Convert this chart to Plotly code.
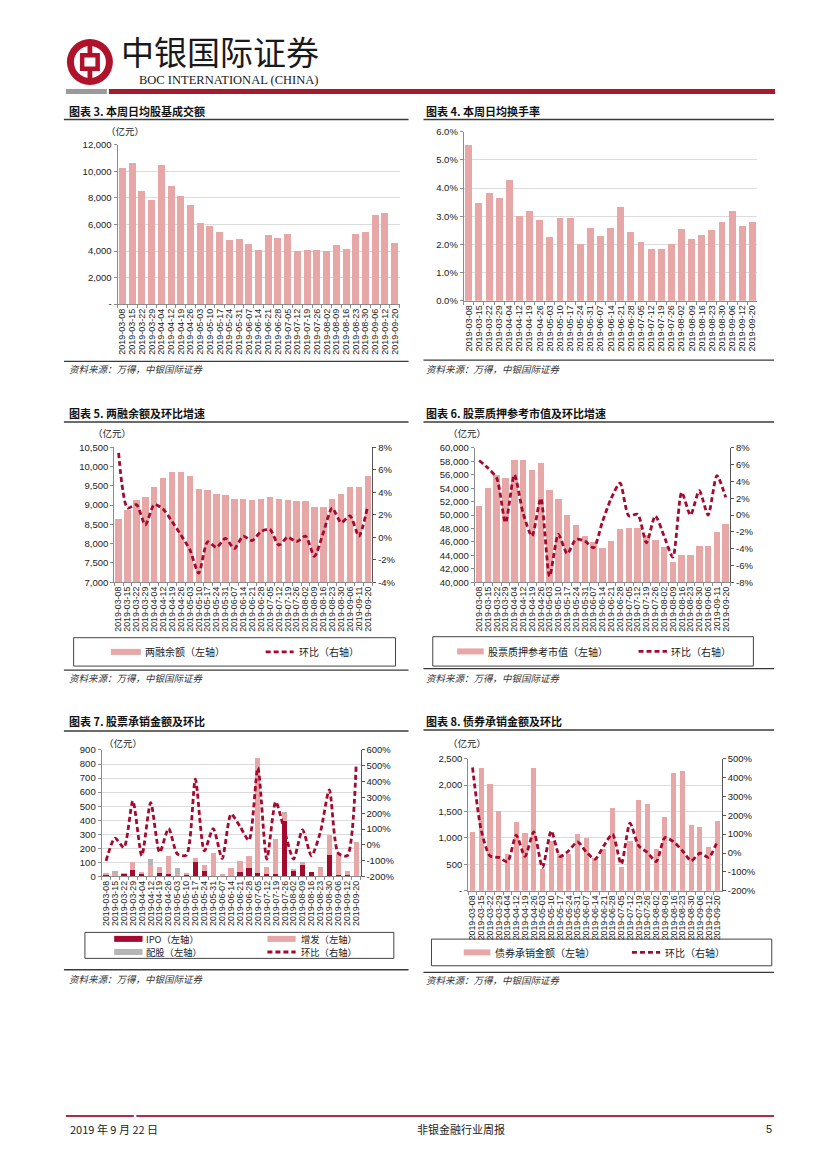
import plotly.graph_objects as go

# page is 827x1169; the html body adds an 8px margin, so the figure is drawn 8px in.
# A small vertical correction compensates the measured rendering drift.
OFF = 8
FW, FH = 827 - 2 * OFF, 1169 - 2 * OFF
def X(p): return (p - OFF) / FW
def Y(p):
    c = (p - 6.0) / 0.9915
    return 1 - (c - OFF) / FH

# ---------------- data ----------------
dates_a = ["2019-03-08","2019-03-15","2019-03-22","2019-03-29","2019-04-04","2019-04-12","2019-04-19",
           "2019-04-26","2019-05-03","2019-05-10","2019-05-17","2019-05-24","2019-05-31","2019-06-07",
           "2019-06-14","2019-06-21","2019-06-28","2019-07-05","2019-07-12","2019-07-19","2019-07-26",
           "2019-08-02","2019-08-09","2019-08-16","2019-08-23","2019-08-30","2019-09-06","2019-09-12","2019-09-20"]
dates_b = dates_a[:-2] + ["2019-09-11", "2019-09-20"]

# 图表3 本周日均股基成交额 (亿元)
turnover_amt = [10250, 10670, 8540, 7860, 10490, 8940, 8160, 7480, 6100, 5900, 5400, 4850, 4900, 4540,
                4090, 5200, 4970, 5300, 3970, 4070, 4090, 3970, 4420, 4170, 5300, 5450, 6730, 6880, 4590]
# 图表4 本周日均换手率 (%)
turnover_rate = [5.53, 3.48, 3.81, 3.64, 4.29, 3.02, 3.19, 2.85, 2.27, 2.95, 2.95, 2.03, 2.59, 2.31,
                 2.59, 3.31, 2.43, 2.09, 1.84, 1.82, 2.00, 2.54, 2.20, 2.34, 2.52, 2.81, 3.19, 2.66, 2.80]
# 图表5 两融余额 (亿元) 及环比 (%)
margin_bal = [8650, 8870, 9120, 9210, 9460, 9700, 9860, 9870, 9750, 9420, 9385, 9290, 9265, 9160,
              9160, 9120, 9170, 9220, 9160, 9140, 9110, 9110, 8945, 8955, 9170, 9300, 9460, 9460, 9750]
margin_chg = [7.5, 2.6, 2.9, 1.1, 2.9, 2.5, 1.4, 0.2, -1.1, -3.2, -0.4, -0.9, -0.1, -1.0,
              0.1, -0.3, 0.5, 0.7, -0.7, 0.0, -0.4, 0.1, -1.7, 0.4, 2.6, 1.3, 1.9, 0.1, 2.8]
# 图表6 股票质押参考市值 (亿元) 及环比 (%)
pledge_val = [51300, 54050, 55900, 55450, 58150, 58150, 56700, 57750, 53700, 52400, 50000, 48450, 46950, 46000,
              45100, 46100, 47850, 48100, 48100, 47000, 46350, 45200, 43050, 44100, 44100, 45450, 45450, 47500, 48600]
pledge_chg = [6.5, 5.6, 4.4, -0.9, 4.8, 0.2, -2.5, 2.0, -7.3, -2.3, -4.6, -2.9, -3.1, -3.9,
              -0.8, 2.0, 3.8, -0.1, 0.1, -3.3, -0.1, -2.5, -5.0, 2.7, 0.0, 2.9, 0.0, 4.7, 2.1]
# 图表7 股票承销金额 (亿元) 及环比 (%)
ipo_amt = [17, 10, 18, 47, 21, 5, 28, 21, 10, 12, 104, 40, 3, 0, 3, 33, 59, 24, 19, 21,
           396, 45, 83, 33, 5, 154, 10, 10, 5]
seo_amt = [11, 10, 2, 53, 7, 75, 41, 128, 7, 9, 26, 43, 163, 17, 56, 78, 85, 822, 50, 249,
           47, 7, 12, 0, 61, 140, 149, 28, 237]
rights_amt = [0, 16, 0, 0, 0, 41, 0, 0, 42, 0, 0, 0, 0, 0, 0, 0, 0, 0, 0, 0,
              16, 0, 9, 0, 0, 0, 0, 0, 0]
equity_chg = [-101, 42, -17, 278, -69, 267, -48, 103, -59, -65, 415, -38, 103, -86, 194, 116, 29, 488,
              -90, 272, 85, -90, 95, -69, 80, 347, -53, -69, 499]
# 图表8 债券承销金额 (亿元) 及环比 (%)
bond_amt = [1120, 2330, 2015, 1510, 690, 1310, 1090, 2330, 420, 950, 700, 690, 1080, 1000,
            620, 790, 1575, 450, 950, 1710, 1635, 790, 1400, 2225, 2265, 1240, 1210, 830, 1320]
bond_chg = [453, 120, -15, -23, -46, 95, -18, 112, -76, 117, -18, 12, 59, 6,
            -32, 38, 100, -59, 158, 38, 3, -45, 82, 59, 12, -41, -1, -23, 65]

# ---------------- styles ----------------
PINK = "#E7A7A7"
DRED = "#A6092F"
GRAY = "#B5B5B5"
AX = "#8C8C8C"
NUMF = "Liberation Sans, Arial, sans-serif"
CJK = "Noto Sans CJK SC"
TICKF = dict(family=NUMF, size=9.5, color="#222")
DASH = "5px,3px"

fig = go.Figure()

def bar(x, y, xa, ya, color=PINK, width=0.7, name=""):
    fig.add_trace(go.Bar(x=x, y=y, marker=dict(color=color, line=dict(width=0)), width=width,
                         xaxis=xa, yaxis=ya, showlegend=False, name=name))

def dline(x, y, xa, ya):
    fig.add_trace(go.Scatter(x=x, y=y, mode="lines", xaxis=xa, yaxis=ya, showlegend=False,
                             line=dict(color=DRED, width=2.8, dash=DASH, shape="spline", smoothing=0.7)))

bar(dates_a, turnover_amt, "x", "y", width=0.72)
bar(dates_a, turnover_rate, "x2", "y2", width=0.68)
bar(dates_b, margin_bal, "x3", "y3", width=0.72)
dline(dates_b, margin_chg, "x3", "y4")
bar(dates_b, pledge_val, "x4", "y5", width=0.74)
dline(dates_b, pledge_chg, "x4", "y6")
bar(dates_a, ipo_amt, "x5", "y7", color=DRED, width=0.58, name="IPO")
bar(dates_a, seo_amt, "x5", "y7", color=PINK, width=0.58, name="增发")
bar(dates_a, rights_amt, "x5", "y7", color=GRAY, width=0.58, name="配股")
dline(dates_a, equity_chg, "x5", "y8")
bar(dates_a, bond_amt, "x6", "y9", width=0.58)
dline(dates_a, bond_chg, "x6", "y10")

def xax(x0, x1, anchor, fsize=8.8):
    return dict(domain=[X(x0), X(x1)], anchor=anchor, type="category", tickangle=-90,
                tickmode="linear", tick0=0, dtick=1,
                tickfont=dict(family=NUMF, size=fsize, color="#222"),
                showline=True, linecolor=AX, linewidth=1, ticks="outside",
                tickson="boundaries", ticklen=3, tickcolor=AX, showgrid=False, zeroline=False,
                fixedrange=True)

def yax(top, bot, anchor, rng, vals, texts, grid=True):
    return dict(domain=[Y(bot), Y(top)], anchor=anchor, range=rng, tickvals=vals, ticktext=texts,
                tickfont=TICKF, showline=True, linecolor=AX, linewidth=1, ticks="outside", ticklen=3,
                tickcolor=AX, showgrid=grid, gridcolor="#DCDCDC", gridwidth=1, zeroline=False,
                fixedrange=True)

def yright(over, anchor, rng, vals, texts):
    return dict(overlaying=over, anchor=anchor, side="right", range=rng, tickvals=vals, ticktext=texts,
                tickfont=TICKF, showline=True, linecolor="#555", linewidth=1, ticks="outside", ticklen=3,
                tickcolor="#555", showgrid=False, zeroline=False, fixedrange=True)

def commas(vals, zero_dash=False):
    return ["-" if (zero_dash and v == 0) else f"{v:,}" for v in vals]

v3 = list(range(0, 12001, 2000))
v4 = [0, 1, 2, 3, 4, 5, 6]
v5 = list(range(7000, 10501, 500))
v5r = [-4, -2, 0, 2, 4, 6, 8]
v6 = list(range(40000, 60001, 2000))
v6r = list(range(-8, 9, 2))
v7 = list(range(0, 901, 100))
v7r = list(range(-200, 601, 100))
v8 = list(range(0, 2501, 500))
v8r = list(range(-200, 501, 100))

layout_axes = dict(
    xaxis=xax(116.7, 399.0, "y", 9),
    yaxis=yax(145.0, 304.3, "x", [0, 12000], v3, commas(v3, True)),
    xaxis2=xax(463.3, 757.4, "y2", 9),
    yaxis2=yax(131.7, 301.0, "x2", [0, 6], v4, [f"{v:.1f}%" for v in v4]),
    xaxis3=xax(113.3, 371.7, "y3"),
    yaxis3=yax(447.7, 582.7, "x3", [7000, 10500], v5, commas(v5), grid=False),
    yaxis4=yright("y3", "x3", [-4, 8], v5r, [f"{v}%" for v in v5r]),
    xaxis4=xax(474.3, 730.0, "y5"),
    yaxis5=yax(448.3, 582.7, "x4", [40000, 60000], v6, commas(v6), grid=False),
    yaxis6=yright("y5", "x4", [-8, 8], v6r, [f"{v}%" for v in v6r]),
    xaxis5=xax(100.7, 360.0, "y7"),
    yaxis7=yax(750.7, 877.3, "x5", [0, 900], v7, [str(v) for v in v7]),
    yaxis8=yright("y7", "x5", [-200, 600], v7r, [f"{v}%" for v in v7r]),
    xaxis6=xax(467.7, 721.7, "y9"),
    yaxis9=yax(759.3, 891.7, "x6", [0, 2500], v8, commas(v8, True)),
    yaxis10=yright("y9", "x6", [-200, 500], v8r, [f"{v}%" for v in v8r]),
)

shapes = []
ann = []

def hline(x0, x1, y, color="#3A3A3A", w=1.5, dash=None):
    d = dict(type="line", xref="paper", yref="paper", x0=X(x0), x1=X(x1), y0=Y(y), y1=Y(y),
             line=dict(color=color, width=w))
    if dash:
        d["line"]["dash"] = dash
    shapes.append(d)

def rect(x0, y0, x1, y1, fill=None, line=None, lw=0):
    shapes.append(dict(type="rect", xref="paper", yref="paper", x0=X(x0), x1=X(x1), y0=Y(y1), y1=Y(y0),
                       fillcolor=fill if fill else "rgba(0,0,0,0)",
                       line=dict(color=line if line else "rgba(0,0,0,0)", width=lw)))

def circle(cx, cy, r, fill):
    shapes.append(dict(type="circle", xref="paper", yref="paper", x0=X(cx - r), x1=X(cx + r),
                       y0=Y(cy + r), y1=Y(cy - r), fillcolor=fill, line=dict(width=0)))

def text(x, y, s, size=10, color="#222", family=CJK, anchor="left"):
    ann.append(dict(x=X(x), y=Y(y), xref="paper", yref="paper", text=s, showarrow=False,
                    xanchor=anchor, yanchor="middle", font=dict(size=size, color=color, family=family)))

# ---------------- header ----------------
circle(89, 62, 23, "#B0122B")
circle(89, 62, 16, "white")
rect(86.6, 40, 91.4, 84, fill="#B0122B")
rect(79, 53, 99, 71, fill="#B0122B")
rect(83.5, 57.5, 94.5, 66.5, fill="white")
text(118, 51, "中银国际证券", size=33, color="#1A1A1A", family="Noto Sans CJK SC")
text(136, 80, "BOC INTERNATIONAL (CHINA)", size=12.5, color="#1A1A1A", family="Liberation Serif, serif")
rect(65, 89, 106, 94, fill="#9A9A9A")
rect(108, 89, 775, 94, fill="#A6192E")

# ---------------- titles / source lines ----------------
TF = 11
text(66, 111.5, "<b>图表 3. 本周日均股基成交额</b>", size=TF, color="#111")
text(424, 111.5, "<b>图表 4. 本周日均换手率</b>", size=TF, color="#111")
text(66, 413, "<b>图表 5. 两融余额及环比增速</b>", size=TF, color="#111")
text(424, 413, "<b>图表 6. 股票质押参考市值及环比增速</b>", size=TF, color="#111")
text(66, 721.5, "<b>图表 7. 股票承销金额及环比</b>", size=TF, color="#111")
text(424, 721.5, "<b>图表 8. 债券承销金额及环比</b>", size=TF, color="#111")
for (x0, x1, y) in [(63, 408, 119.5), (423, 774, 119.5), (63, 408, 422.3), (423, 774, 422.3),
                    (63, 408, 731.7), (423, 774, 730.7)]:
    hline(x0, x1, y, color="#3A3A3A", w=1.5)
for (x0, x1, y) in [(63, 408, 361.7), (423, 774, 360.5), (63, 408, 670.7), (423, 774, 669.3),
                    (63, 408, 970.7), (423, 774, 973.3)]:
    hline(x0, x1, y, color="#3A3A3A", w=1.3)
SRC = "<i>资料来源：万得，中银国际证券</i>"
for (x, y) in [(66, 369.5), (424, 369.5), (66, 679), (424, 679), (66, 980), (424, 981)]:
    text(x, y, SRC, size=9.5, color="#333")

UNIT = "（亿元）"
text(103, 131.5, UNIT, size=9.5)
text(90, 433.5, UNIT, size=9.5)
text(446, 433.5, UNIT, size=9.5)
text(101, 743.5, UNIT, size=9.5)
text(446, 743.5, UNIT, size=9.5)

# ---------------- legends ----------------
LF = 10
def leg_bar(x0, x1, y, color):
    rect(x0, y - 3, x1, y + 3, fill=color)
def leg_dash(x0, x1, y):
    hline(x0, x1, y, color=DRED, w=2.8, dash=DASH)

# chart 5
rect(72.7, 638.3, 395, 666.7, line="#444", lw=1)
leg_bar(110, 140, 652.5, PINK)
text(142, 652.5, "两融余额（左轴）", size=LF)
leg_dash(265, 293, 652.5)
text(296, 652.5, "环比（右轴）", size=LF)
# chart 6
rect(432.3, 637.3, 753.3, 666.7, line="#444", lw=1)
leg_bar(456.7, 483.3, 652, PINK)
text(486, 652, "股票质押参考市值（左轴）", size=LF)
leg_dash(638.3, 666.7, 652)
text(669, 652, "环比（右轴）", size=LF)
# chart 7 (two rows)
LF7 = 9.3
rect(84, 933.3, 393.3, 959.3, line="#444", lw=1)
leg_bar(113.3, 141.7, 939.8, DRED)
text(143, 939.8, "IPO（左轴）", size=LF7)
leg_bar(266.7, 295, 939.8, PINK)
text(298, 939.8, "增发（左轴）", size=LF7)
leg_bar(113.3, 141.7, 952.9, GRAY)
text(143, 952.9, "配股（左轴）", size=LF7)
leg_dash(266.7, 295, 952.9)
text(298, 952.9, "环比（右轴）", size=LF7)
# chart 8
rect(431, 940, 771.7, 966.7, line="#444", lw=1)
leg_bar(463.3, 490, 953.3, PINK)
text(493, 953.3, "债券承销金额（左轴）", size=LF)
leg_dash(631.7, 660, 953.3)
text(663, 953.3, "环比（右轴）", size=LF)

# ---------------- footer ----------------
hline(65, 133, 1117, color="#B02A44", w=2)
hline(135.5, 774, 1117, color="#B02A44", w=2)
text(67, 1130, "2019 年 9 月 22 日", size=11, color="#222")
text(461, 1130, "非银金融行业周报", size=11, color="#222", anchor="center")
text(774, 1130, "5", size=11, color="#222", family=NUMF, anchor="right")

fig.update_layout(
    width=FW, height=FH, margin=dict(l=0, r=0, t=0, b=0, pad=0),
    paper_bgcolor="white", plot_bgcolor="white",
    barmode="stack", showlegend=False,
    font=dict(family=NUMF, size=10, color="#222"),
    shapes=shapes, annotations=ann,
    **layout_axes,
)

fig.write_html("out.html", config={"displayModeBar": False})
